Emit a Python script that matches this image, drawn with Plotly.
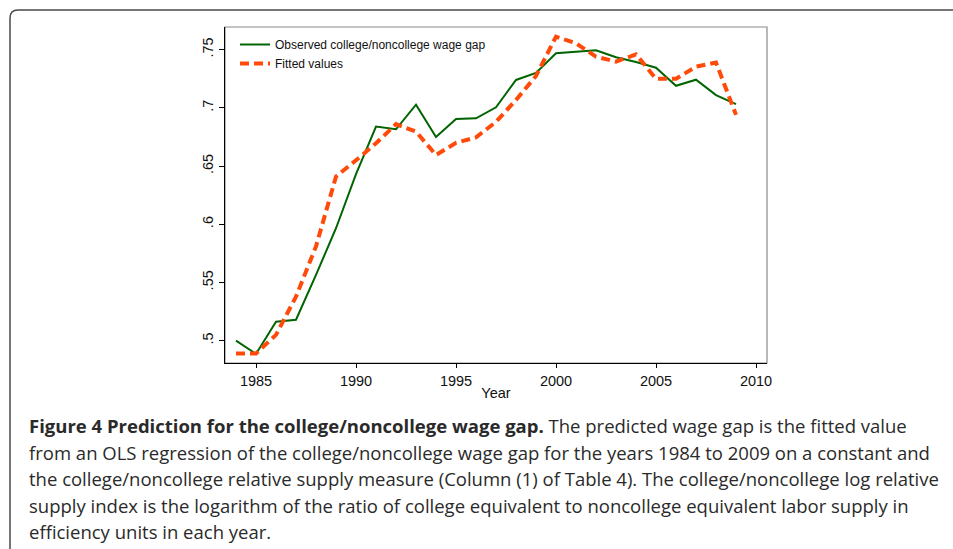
import plotly.graph_objects as go

years = list(range(1984, 2010))
observed = [0.500, 0.4886, 0.5163, 0.5180, 0.5565, 0.5966, 0.6430, 0.6839, 0.6816, 0.7028,
            0.6750, 0.6905, 0.6910, 0.7005, 0.7240, 0.7300, 0.7469, 0.7480, 0.7495, 0.7435,
            0.7394, 0.7345, 0.7190, 0.7242, 0.7110, 0.7033]
fitted = [0.4890, 0.4890, 0.5050, 0.5378, 0.5810, 0.6410, 0.6550, 0.6696, 0.6860, 0.6796,
          0.6595, 0.6700, 0.6747, 0.6880, 0.7068, 0.7274, 0.7612, 0.7555, 0.7440, 0.7397,
          0.7460, 0.7250, 0.7250, 0.7354, 0.7390, 0.6940]
x_ticks = [1985, 1990, 1995, 2000, 2005, 2010]
y_ticks = [0.5, 0.55, 0.6, 0.65, 0.7, 0.75]
y_tick_labels = [".5", ".55", ".6", ".65", ".7", ".75"]
series_names = ["Observed college/noncollege wage gap", "Fitted values"]
caption_lines = [
    "<b>Figure 4 Prediction for the college/noncollege wage gap.</b> The predicted wage gap is the fitted value",
    "from an OLS regression of the college/noncollege wage gap for the years 1984 to 2009 on a constant and",
    "the college/noncollege relative supply measure (Column (1) of Table 4). The college/noncollege log relative",
    "supply index is the logarithm of the ratio of college equivalent to noncollege equivalent labor supply in",
    "efficiency units in each year.",
]

W, H = 953, 549
L, R, T, B = 225, 767, 27, 363
pw, ph = R - L, B - T


def px(x):
    return (x - L) / pw


def py(y):
    return (B - y) / ph


fig = go.Figure()
fig.add_trace(go.Scatter(x=years, y=observed, mode="lines", name=series_names[0],
                         line=dict(color="#006400", width=2)))
fig.add_trace(go.Scatter(x=years, y=fitted, mode="lines", name=series_names[1],
                         line=dict(color="#FF4A0A", width=4, dash="9px,5px")))

axis_font = dict(family="Liberation Sans, Arial, sans-serif", size=14.5, color="#111")

fig.update_layout(
    width=W, height=H,
    margin=dict(l=L, r=W - R, t=T, b=H - B, pad=0),
    paper_bgcolor="white", plot_bgcolor="white",
    showlegend=True,
    legend=dict(x=px(235), y=py(30), xanchor="left", yanchor="top",
                bgcolor="rgba(0,0,0,0)", font=dict(family="Liberation Sans, Arial, sans-serif", size=12, color="#111"),
                tracegroupgap=0, itemwidth=30),
    xaxis=dict(range=[1983.45, 2010.55], tickvals=x_ticks, ticks="outside", ticklen=4,
               tickcolor="black", showline=True, linecolor="black", linewidth=1.3,
               showgrid=False, zeroline=False, tickfont=axis_font,
               title=dict(text="Year", font=axis_font, standoff=0)),
    yaxis=dict(range=[0.4808, 0.7695], tickvals=y_ticks, ticktext=y_tick_labels,
               ticks="outside", ticklen=5, tickcolor="black", tickangle=-90,
               showline=True, linecolor="black", linewidth=1.3, showgrid=False,
               zeroline=False, tickfont=axis_font),
)

# gray plot box (top/right sides)
fig.add_shape(type="rect", xref="paper", yref="paper", x0=0, x1=1, y0=0, y1=1,
              line=dict(color="#8a8a8a", width=1.2), layer="below")

# figure frame with rounded top-left corner
path = (f"M {px(10)},{py(560)} L {px(10)},{py(18)} "
        f"Q {px(10)},{py(10)} {px(18)},{py(10)} L {px(960)},{py(10)}")
fig.add_shape(type="path", xref="paper", yref="paper", path=path,
              line=dict(color="#4a4a4a", width=1.5))

line_y = [425, 452, 478.5, 505, 531.5]
for txt, yy in zip(caption_lines, line_y):
    fig.add_annotation(text=txt, xref="paper", yref="paper", x=px(27), y=py(yy),
                       xanchor="left", yanchor="middle", showarrow=False,
                       font=dict(family="'Open Sans', 'Noto Sans', sans-serif", size=18.5, color="#2a2a2a"),
                       align="left")

fig.write_html("out.html", config={"displayModeBar": False},
               post_script="document.body.style.margin='0px';document.body.style.overflow='hidden';")
